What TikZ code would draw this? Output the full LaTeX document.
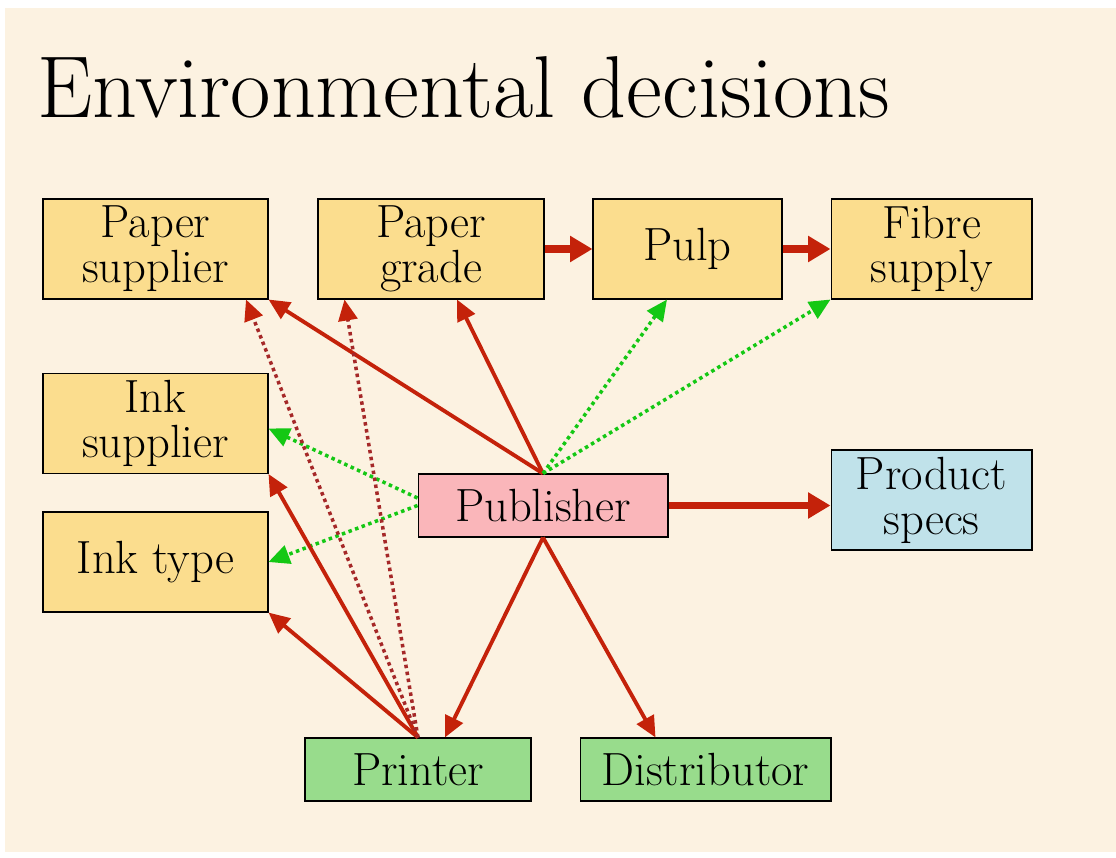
\documentclass[tikz,border=0pt]{standalone}
\usepackage{xcolor}
\usepackage{tikz}
\usetikzlibrary{arrows.meta}

\definecolor{parchment}{RGB}{252,242,225}
\definecolor{boxyellow}{RGB}{251,221,142}
\definecolor{boxpink}{RGB}{250,182,186}
\definecolor{boxblue}{RGB}{192,226,234}
\definecolor{boxgreen}{RGB}{152,220,140}
\definecolor{linkred}{RGB}{196,34,10}
\definecolor{linkmaroon}{RGB}{165,40,40}
\definecolor{linkgreen}{RGB}{20,200,20}

\begin{document}
\begin{tikzpicture}[x=0.02cm, y=-0.02cm,
    box/.style={draw=black, line width=0.6pt, align=center, inner sep=0pt,
      minimum height=2cm, font=\fontsize{26.5}{25.5}\selectfont},
    flatbox/.style={box, minimum height=1.26cm},
    tip/.style={-{Triangle[length=0.42cm, width=0.38cm]}},
    heavy/.style={draw=linkred, line width=4pt, -{Triangle[length=0.45cm, width=0.5cm]}},
    firm/.style={draw=linkred, line width=2.2pt, tip},
    weak/.style={draw=linkmaroon, line width=2pt, dotted,
      -{Triangle[length=0.42cm, width=0.38cm, color=linkred]}},
    green/.style={draw=linkgreen, line width=2pt, dotted, tip}]
  % page
  \fill[white] (0,0) rectangle (1116,858);
  \fill[parchment] (5,8) rectangle (1116,852);
  \node[anchor=base west, font=\fontsize{50}{55}\selectfont] (title) at (31,118)
        {Environmental decisions};

  % boxes
  \node[box, fill=boxyellow, minimum width=4.5cm]  (psup)   at (155.5,249) {Paper\\supplier};
  \node[box, fill=boxyellow, minimum width=4.52cm] (pgrade) at (431,249)   {Paper\\grade};
  \node[box, fill=boxyellow, minimum width=3.78cm] (pulp)   at (687.5,249) {Pulp};
  \node[box, fill=boxyellow, minimum width=4.02cm] (fibre)  at (931.5,249) {Fibre\\supply};
  \node[box, fill=boxyellow, minimum width=4.5cm]  (isup)   at (155.5,423.5) {Ink\\supplier};
  \node[box, fill=boxyellow, minimum width=4.5cm]  (itype)  at (155.5,562) {Ink type};
  \node[flatbox, fill=boxpink, minimum width=5cm]  (pub)    at (543,505.5) {Publisher};
  \node[box, fill=boxblue, minimum width=4.02cm]   (specs)  at (931.5,500) {Product\\specs};
  \node[flatbox, fill=boxgreen, minimum width=4.52cm] (printer) at (418,769.5) {Printer};
  \node[flatbox, fill=boxgreen, minimum width=5.02cm] (dist)    at (705.5,769.5) {Distributor};

  % supply chain along the top
  \draw[heavy] (pgrade.east) -- (pulp.west);
  \draw[heavy] (pulp.east) -- (fibre.west);
  \draw[heavy] (pub.east) -- (pub.east -| specs.west);

  % publisher decides
  \draw[firm] (pub.north) -- (psup.south east);
  \draw[firm] (pub.north) -- ([xshift=0.52cm]pgrade.south);
  \draw[firm] (pub.south) -- ([xshift=0.54cm]printer.north);
  \draw[firm] (pub.south) -- ([xshift=-1cm]dist.north);
  \draw[green] (pub.north) -- ([xshift=-0.41cm]pulp.south);
  \draw[green] (pub.north) -- (fibre.south west);
  \draw[green] ([yshift=0.15cm]pub.west) -- ([yshift=-0.1cm]isup.east);
  \draw[green] (pub.west) -- (itype.east);

  % printer decides
  \draw[firm] (printer.north) -- (itype.south east);
  \draw[firm] (printer.north) -- (isup.south east);
  \draw[weak] (printer.north) -- ([xshift=-0.45cm]psup.south east);
  \draw[weak] (printer.north) -- ([xshift=0.54cm]pgrade.south west);
\end{tikzpicture}
\end{document}
